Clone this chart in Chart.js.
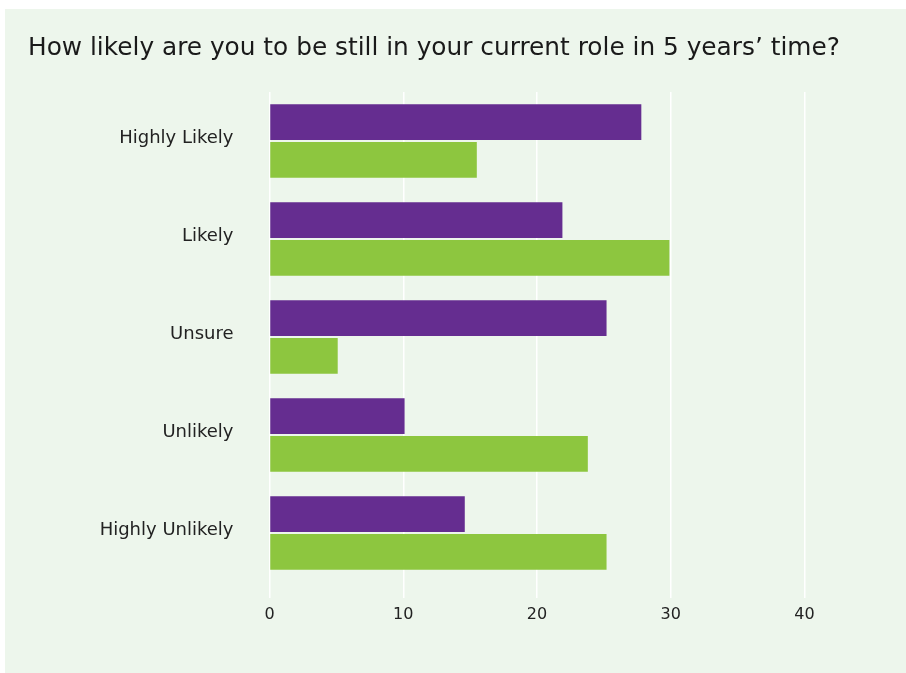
<!DOCTYPE html>
<html>
<head>
<meta charset="utf-8">
<script src="https://cdn.jsdelivr.net/npm/chart.js@4"></script>
<style>
  html, body { margin: 0; padding: 0; background: #ffffff; }
  #panel { position: absolute; left: 5px; top: 9px; width: 901px; height: 664px; background: #edf6ec; }
  canvas { display: block; }
</style>
</head>
<body>
<div id="panel"><canvas id="c" width="901" height="664"></canvas></div>
<script>
const categories = ['Highly Likely', 'Likely', 'Unsure', 'Unlikely', 'Highly Unlikely'];
const seriesPurple = [27.8, 21.9, 25.2, 10.1, 14.6];
const seriesGreen = [15.5, 29.9, 5.1, 23.8, 25.2];
const xTicks = [0, 10, 20, 30, 40];
const titleText = 'How likely are you to be still in your current role in 5 years\u2019 time?';

const FONT = "'DejaVu Sans', sans-serif";

const freeTitle = {
  id: 'freeTitle',
  afterDraw(chart) {
    const ctx = chart.ctx;
    ctx.save();
    ctx.font = "24.8px " + FONT;
    ctx.fillStyle = '#1a1a1a';
    ctx.textAlign = 'left';
    ctx.textBaseline = 'middle';
    ctx.fillText(titleText, 23, 39.5);
    ctx.restore();
  }
};

new Chart(document.getElementById('c'), {
  type: 'bar',
  data: {
    labels: categories,
    datasets: [
      { label: 'Series 1', data: seriesPurple, backgroundColor: '#652d90', barPercentage: 0.95, categoryPercentage: 0.77 },
      { label: 'Series 2', data: seriesGreen, backgroundColor: '#8dc63f', barPercentage: 0.95, categoryPercentage: 0.77 }
    ]
  },
  plugins: [freeTitle],
  options: {
    indexAxis: 'y',
    responsive: false,
    animation: false,
    devicePixelRatio: 1,
    layout: { padding: { left: 23, right: 101.5, top: 83, bottom: 0 } },
    plugins: {
      legend: { display: false },
      tooltip: { enabled: false },
      title: { display: false }
    },
    scales: {
      x: {
        min: 0, max: 40,
        afterBuildTicks: (s) => { s.ticks = xTicks.map(v => ({ value: v })); },
        afterFit: (s) => { s.height = 91; },
        border: { display: false },
        grid: { color: '#ffffff', lineWidth: 1.5, drawTicks: true, tickLength: 16, tickColor: '#ffffff' },
        ticks: { color: '#222222', font: { family: FONT, size: 16 }, padding: 7, maxRotation: 0 }
      },
      y: {
        afterFit: (s) => { s.width = 241.5; },
        border: { display: false },
        grid: { display: false, drawTicks: false },
        ticks: { color: '#222222', font: { family: FONT, size: 18 }, padding: 36, labelOffset: -3 }
      }
    }
  }
});
</script>
</body>
</html>
